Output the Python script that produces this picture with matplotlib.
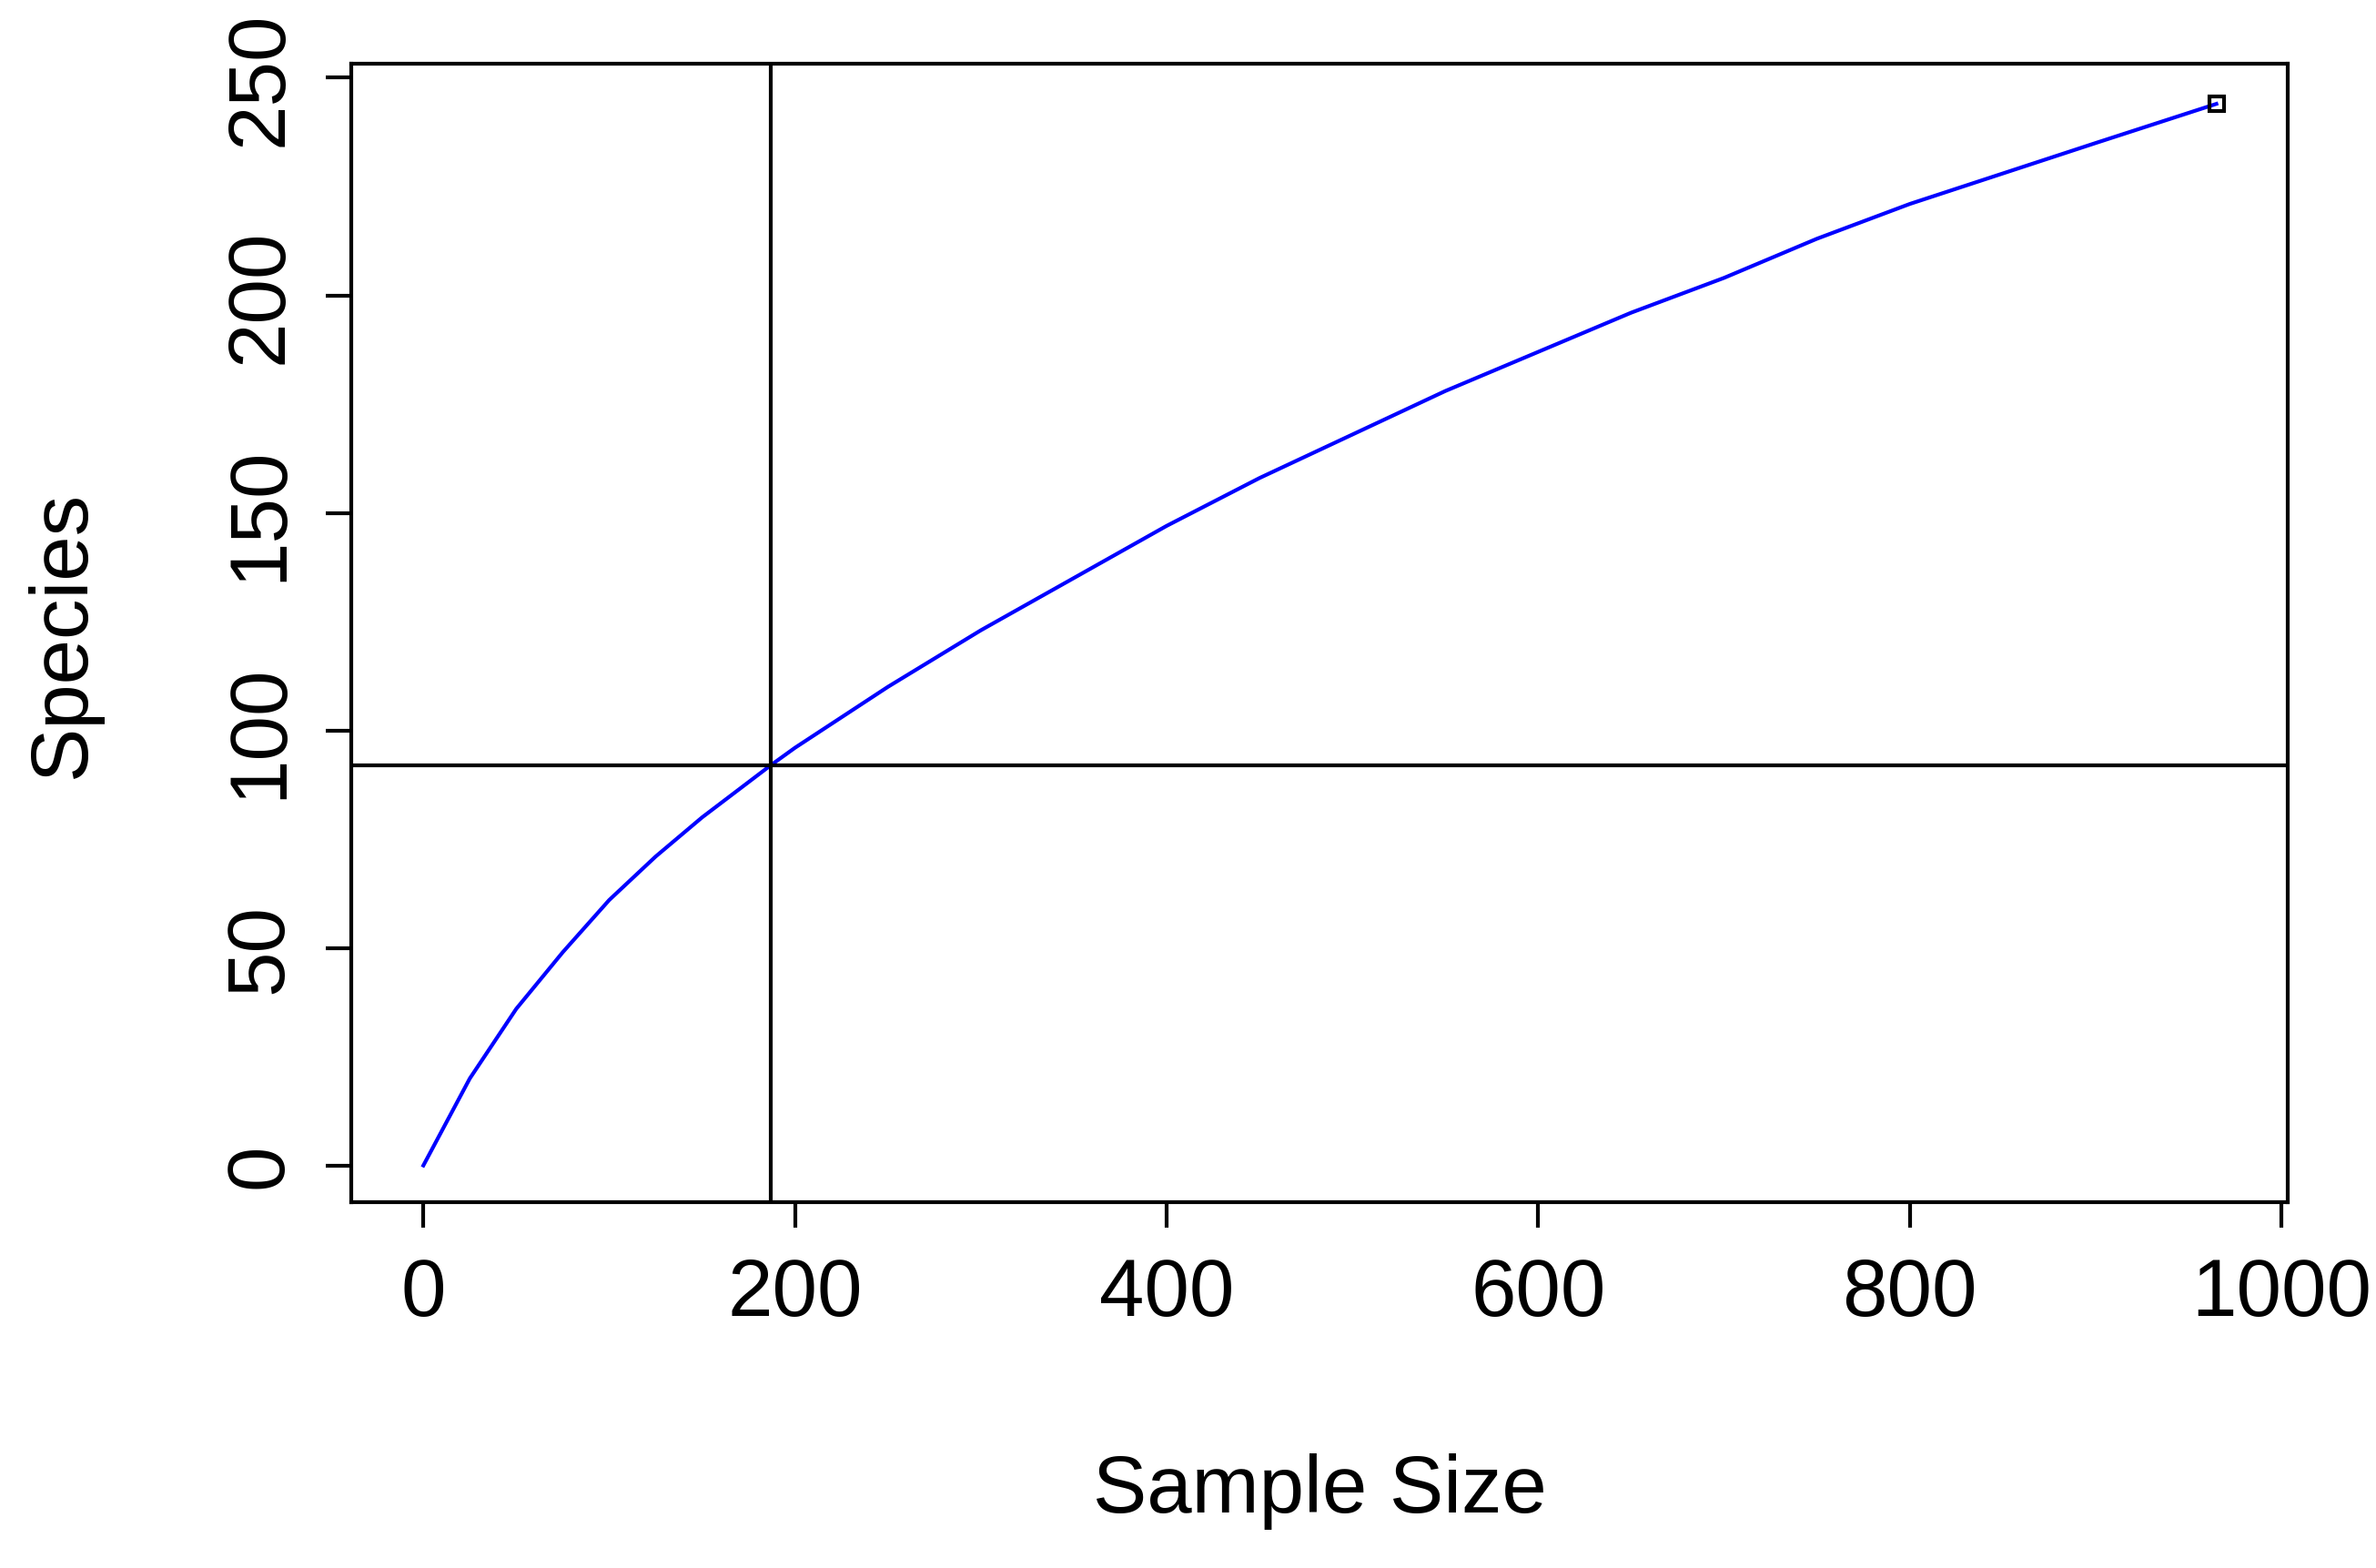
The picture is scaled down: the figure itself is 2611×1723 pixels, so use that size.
import matplotlib
matplotlib.use("Agg")
import matplotlib.pyplot as plt

# rarefaction curve
sample_size = [0, 5, 10, 25, 50, 75, 100, 125, 150, 187, 200, 250, 300, 350, 400, 450,
               500, 550, 600, 650, 700, 750, 800, 850, 900, 965]
species = [0, 4, 8, 20, 36, 49, 61, 71, 80, 92, 96, 110, 123, 135, 147, 158,
           168, 178, 187, 196, 204, 213, 221, 228, 235, 244]
vline_x = 187
hline_y = 92
xticks = [0, 200, 400, 600, 800, 1000]
yticks = [0, 50, 100, 150, 200, 250]

plt.rcParams["font.family"] = ["Liberation Sans", "DejaVu Sans"]
fig = plt.figure(figsize=(26.11, 17.24), dpi=100)
ax = fig.add_axes([0.148, 0.233, 0.815, 0.726])

ax.plot(sample_size, species, color="blue", lw=3)
ax.plot([sample_size[-1]], [species[-1]], marker="s", ms=12, mfc="none", mec="black", mew=3)
ax.axvline(vline_x, color="black", lw=3)
ax.axhline(hline_y, color="black", lw=3)

ax.set_xlim(-38.6, 1003.6)
ax.set_ylim(-8.5, 253.3)
ax.set_xticks(xticks)
ax.set_yticks(yticks)
ax.tick_params(labelsize=64, length=20, width=3, pad=22)
ax.tick_params(axis="y", labelrotation=90)
for lbl in ax.get_yticklabels():
    lbl.set_va("center")
for s in ax.spines.values():
    s.set_linewidth(3)
ax.set_xlabel("Sample Size", fontsize=64, labelpad=95)
ax.set_ylabel("Species", fontsize=64, labelpad=95)

fig.savefig("out.png", dpi=100)
